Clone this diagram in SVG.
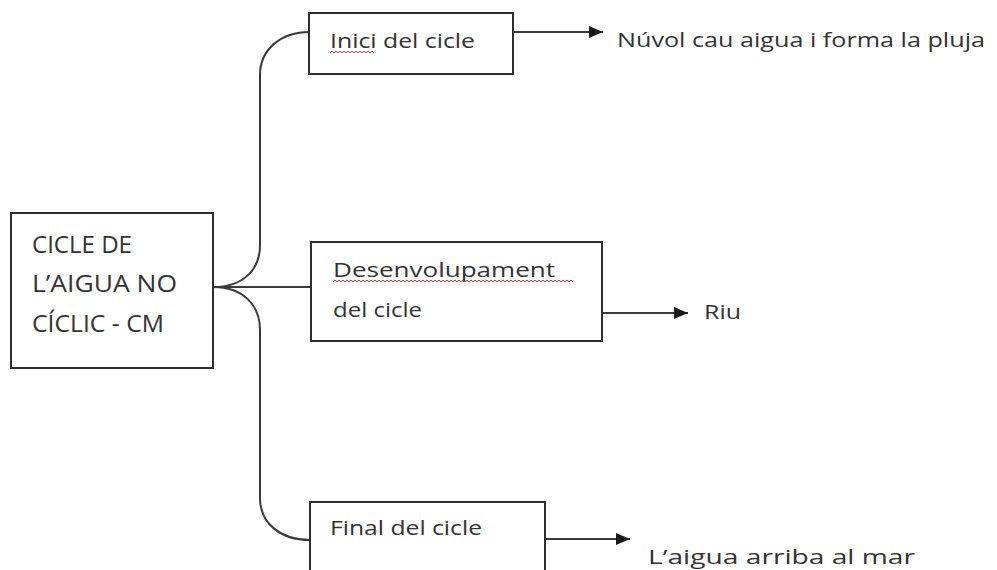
<svg xmlns="http://www.w3.org/2000/svg" width="997" height="570" viewBox="0 0 997 570">
  <defs>
    <marker id="arrow" viewBox="0 0 14 12" refX="14" refY="6" markerWidth="14" markerHeight="12" markerUnits="userSpaceOnUse" orient="auto">
      <path d="M0,0 L14,6 L0,12 Z" fill="#1a1a1a"/>
    </marker>
  </defs>
  <style>
    .box { fill: #ffffff; stroke: #2e2e2e; stroke-width: 2; }
    .link { fill: none; stroke: #3a3a3a; stroke-width: 2; }
    .lbl { font-family: "Open Sans", "Noto Sans", "Liberation Sans", sans-serif; font-size: 20px; fill: #333333; }
    .big { font-size: 23px; }
    .squig { fill: none; stroke: #e03030; stroke-width: 1; }
  </style>
  <rect width="997" height="570" fill="#ffffff"/>

  <!-- connectors -->
  <g id="connectors">
    <path class="link" d="M213,287 C243,287 260,270 260,245 L260,75 C260,50 280,32 310,32"/>
    <path class="link" d="M213,287 L311,287"/>
    <path class="link" d="M213,287 C243,287 260,305 260,330 L260,498 C260,523 280,540 310,540"/>
    <path class="link" d="M513,32 L603,32" marker-end="url(#arrow)"/>
    <path class="link" d="M602,313 L688,313" marker-end="url(#arrow)"/>
    <path class="link" d="M545,539 L630,539" marker-end="url(#arrow)"/>
  </g>

  <!-- root node -->
  <g id="root">
    <rect class="box" x="11" y="213" width="202" height="155"/>
    <text class="lbl big" x="32" y="253" textLength="100" lengthAdjust="spacingAndGlyphs">CICLE DE</text>
    <text class="lbl big" x="32" y="292" textLength="145" lengthAdjust="spacingAndGlyphs">L’AIGUA NO</text>
    <text class="lbl big" x="32" y="332" textLength="132" lengthAdjust="spacingAndGlyphs">CÍCLIC - CM</text>
  </g>

  <!-- start of the cycle -->
  <g id="inici">
    <rect class="box" x="309" y="13" width="204" height="61"/>
    <text class="lbl" x="330" y="48" textLength="145" lengthAdjust="spacingAndGlyphs">Inici del cicle</text>
    <path class="squig" d="M330,53 l2,-2 l2,2 l2,-2 l2,2 l2,-2 l2,2 l2,-2 l2,2 l2,-2 l2,2 l2,-2 l2,2 l2,-2 l2,2 l2,-2 l2,2 l2,-2 l2,2 l2,-2 l2,2 l2,-2 l2,2"/>
  </g>
  <g id="nuvol">
    <text class="lbl" x="617" y="47" textLength="368" lengthAdjust="spacingAndGlyphs">Núvol cau aigua i forma la pluja</text>
  </g>

  <!-- development of the cycle -->
  <g id="desenvolupament">
    <rect class="box" x="311" y="242" width="291" height="99"/>
    <text class="lbl" x="333" y="277" textLength="222" lengthAdjust="spacingAndGlyphs">Desenvolupament</text>
    <text class="lbl" x="333" y="317" textLength="89" lengthAdjust="spacingAndGlyphs">del cicle</text>
    <path class="squig" d="M333,282 l2,-2 l2,2 l2,-2 l2,2 l2,-2 l2,2 l2,-2 l2,2 l2,-2 l2,2 l2,-2 l2,2 l2,-2 l2,2 l2,-2 l2,2 l2,-2 l2,2 l2,-2 l2,2 l2,-2 l2,2 l2,-2 l2,2 l2,-2 l2,2 l2,-2 l2,2 l2,-2 l2,2 l2,-2 l2,2 l2,-2 l2,2 l2,-2 l2,2 l2,-2 l2,2 l2,-2 l2,2 l2,-2 l2,2 l2,-2 l2,2 l2,-2 l2,2 l2,-2 l2,2 l2,-2 l2,2 l2,-2 l2,2 l2,-2 l2,2 l2,-2 l2,2 l2,-2 l2,2 l2,-2 l2,2 l2,-2 l2,2 l2,-2 l2,2 l2,-2 l2,2 l2,-2 l2,2 l2,-2 l2,2 l2,-2 l2,2 l2,-2 l2,2 l2,-2 l2,2 l2,-2 l2,2 l2,-2 l2,2 l2,-2 l2,2 l2,-2 l2,2 l2,-2 l2,2 l2,-2 l2,2 l2,-2 l2,2 l2,-2 l2,2 l2,-2 l2,2 l2,-2 l2,2 l2,-2 l2,2 l2,-2 l2,2 l2,-2 l2,2 l2,-2 l2,2 l2,-2 l2,2 l2,-2 l2,2 l2,-2 l2,2 l2,-2 l2,2 l2,-2 l2,2 l2,-2 l2,2 l2,-2 l2,2 l2,-2 l2,2"/>
  </g>
  <g id="riu">
    <text class="lbl" x="704" y="319" textLength="37" lengthAdjust="spacingAndGlyphs">Riu</text>
  </g>

  <!-- end of the cycle -->
  <g id="final">
    <rect class="box" x="310" y="502" width="235" height="72"/>
    <text class="lbl" x="330" y="535" textLength="152" lengthAdjust="spacingAndGlyphs">Final del cicle</text>
  </g>
  <g id="mar">
    <text class="lbl" x="648" y="564" textLength="267" lengthAdjust="spacingAndGlyphs">L’aigua arriba al mar</text>
  </g>
</svg>
